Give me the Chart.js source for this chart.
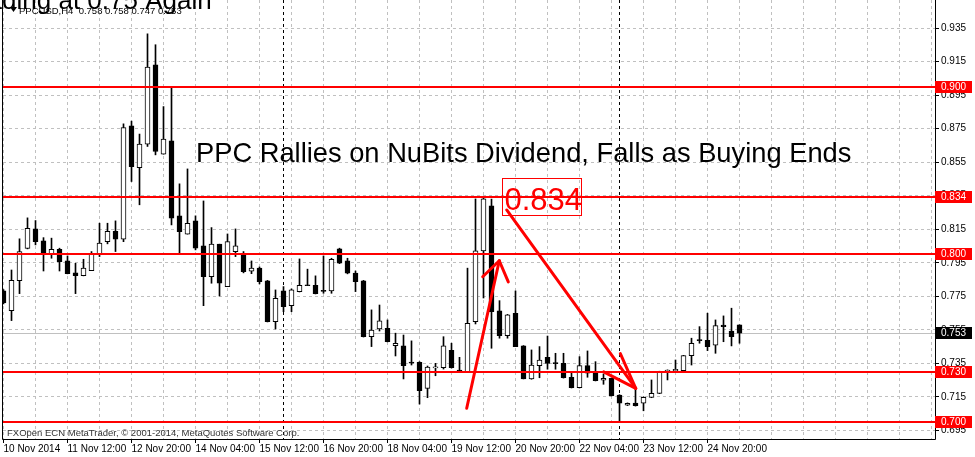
<!DOCTYPE html>
<html><head><meta charset="utf-8">
<script src="https://cdn.jsdelivr.net/npm/chart.js@4.4.1/dist/chart.umd.min.js"></script>
<style>html,body{margin:0;padding:0;background:#fff;overflow:hidden}#wrap{width:975px;height:457px}</style>
</head><body><div id="wrap"><canvas id="c" width="975" height="457"></canvas></div>
<script>
// ---- data (PPCUSD, H4) ----
const xLabels = ["10 Nov 2014","11 Nov 12:00","12 Nov 20:00","14 Nov 04:00","15 Nov 12:00","16 Nov 20:00","18 Nov 04:00","19 Nov 12:00","20 Nov 20:00","22 Nov 04:00","23 Nov 12:00","24 Nov 20:00"];
const yTicks = [0.695,0.715,0.735,0.755,0.775,0.795,0.815,0.835,0.855,0.875,0.895,0.915,0.935];
const opens  = [0.7782,0.7665,0.7844,0.8036,0.8152,0.8081,0.8003,0.8031,0.7961,0.7890,0.7873,0.7903,0.8003,0.8076,0.8138,0.8091,0.8767,0.8518,0.8658,0.9131,0.8598,0.8678,0.8230,0.8121,0.8200,0.8051,0.7867,0.8061,0.7808,0.8017,0.8001,0.7900,0.7918,0.7842,0.7599,0.7782,0.7694,0.7778,0.7819,0.7816,0.7783,0.7782,0.8033,0.7961,0.7888,0.7842,0.7509,0.7555,0.7559,0.7456,0.7454,0.7355,0.7356,0.7201,0.7323,0.7324,0.7428,0.7308,0.7300,0.7599,0.8021,0.8290,0.7663,0.7515,0.7649,0.7454,0.7257,0.7336,0.7386,0.7352,0.7350,0.7267,0.7205,0.7336,0.7291,0.7249,0.7261,0.7161,0.7100,0.7113,0.7112,0.7147,0.7171,0.7300,0.7304,0.7306,0.7396,0.7489,0.7488,0.7458,0.7579,0.7543,0.7580];
const highs  = [0.7790,0.7907,0.8093,0.8218,0.8202,0.8100,0.8097,0.8037,0.7991,0.7947,0.7971,0.8017,0.8186,0.8186,0.8200,0.8779,0.8795,0.8718,0.9316,0.9251,0.8882,0.8996,0.8421,0.8510,0.8230,0.8319,0.8160,0.8061,0.8122,0.8152,0.8017,0.7961,0.7925,0.7845,0.7788,0.7808,0.7794,0.7973,0.7912,0.7872,0.7991,0.7977,0.8037,0.7977,0.7901,0.7845,0.7669,0.7698,0.7609,0.7530,0.7519,0.7484,0.7360,0.7334,0.7350,0.7509,0.7470,0.7386,0.7918,0.8331,0.8340,0.8330,0.7724,0.7642,0.7782,0.7456,0.7430,0.7450,0.7513,0.7410,0.7410,0.7300,0.7390,0.7424,0.7360,0.7287,0.7263,0.7163,0.7114,0.7201,0.7150,0.7251,0.7303,0.7311,0.7370,0.7398,0.7500,0.7569,0.7649,0.7609,0.7633,0.7679,0.7580];
const lows   = [0.7705,0.7605,0.7766,0.8033,0.8057,0.7901,0.7977,0.7901,0.7884,0.7766,0.7872,0.7903,0.7987,0.8063,0.8017,0.8076,0.8435,0.8296,0.8644,0.8594,0.8598,0.8176,0.8007,0.8121,0.8027,0.7694,0.7828,0.7752,0.7808,0.7987,0.7890,0.7885,0.7824,0.7597,0.7555,0.7658,0.7658,0.7776,0.7814,0.7764,0.7768,0.7768,0.7945,0.7884,0.7778,0.7507,0.7450,0.7543,0.7478,0.7394,0.7257,0.7340,0.7107,0.7145,0.7276,0.7316,0.7322,0.7300,0.7298,0.7585,0.7740,0.7440,0.7500,0.7500,0.7450,0.7257,0.7255,0.7264,0.7315,0.7315,0.7262,0.7203,0.7203,0.7267,0.7245,0.7225,0.7155,0.7003,0.7098,0.7095,0.7067,0.7145,0.7169,0.7251,0.7302,0.7304,0.7340,0.7470,0.7426,0.7410,0.7479,0.7454,0.7470];
const closes = [0.7710,0.7846,0.8017,0.8156,0.8076,0.8007,0.8031,0.7957,0.7885,0.7873,0.7918,0.8001,0.8067,0.8138,0.8091,0.8757,0.8524,0.8658,0.9118,0.8614,0.8688,0.8216,0.8136,0.8186,0.8037,0.7867,0.8061,0.7828,0.8076,0.8051,0.7897,0.7918,0.7838,0.7599,0.7738,0.7688,0.7788,0.7816,0.7813,0.7766,0.7779,0.7971,0.7947,0.7888,0.7838,0.7509,0.7549,0.7603,0.7479,0.7470,0.7336,0.7351,0.7187,0.7327,0.7327,0.7454,0.7324,0.7304,0.7589,0.8021,0.8331,0.7658,0.7515,0.7639,0.7450,0.7257,0.7340,0.7370,0.7350,0.7348,0.7264,0.7205,0.7336,0.7291,0.7247,0.7261,0.7157,0.7112,0.7112,0.7097,0.7147,0.7171,0.7300,0.7310,0.7315,0.7396,0.7470,0.7486,0.7450,0.7575,0.7569,0.7509,0.7530];
const levels = [0.900,0.834,0.800,0.730,0.700];
const lastPrice = 0.753;
const separators = [35,77];
const symbolName = "PPCUSD,H4";
const chartTitle = "PPC Rallies on NuBits Dividend, Falls as Buying Ends";
const oldTitle = "Trading at 0.75 Again";
const calloutText = "0.834";
const footer = "FXOpen ECN MetaTrader, \u00A9 2001-2014, MetaQuotes Software Corp.";
// annotation anchors in (bar index, price)
const titleAnchor = [24.06, 0.8551];
const calloutAnchor = [62.35, 0.8456];
const arrows = [
  {from:[57.9, 0.7082], to:[61.97, 0.7962], wings:[[33.6,23],[-35.6,23]]},
  {from:[62.9, 0.8265], to:[79.03, 0.7201], wings:[[12,38],[-27,36]]}
];

// ---- chart ----
const idx = opens.map((_, i) => i);
const up = idx.map(i => closes[i] >= opens[i]);
const FONT = '"Liberation Sans", Arial, sans-serif';

const overlay = {
  id: 'overlay',
  beforeDatasetsDraw(chart) {
    const {ctx, chartArea: a, scales: {x, y}} = chart;
    ctx.save();
    ctx.beginPath(); ctx.rect(a.left, a.top, a.right - a.left, a.bottom - a.top); ctx.clip();
    ctx.strokeStyle = '#c0c0c0'; ctx.lineWidth = 1;
    let py = Math.round(y.getPixelForValue(lastPrice)) + 0.5;
    ctx.beginPath(); ctx.moveTo(a.left, py); ctx.lineTo(a.right, py); ctx.stroke();
    ctx.strokeStyle = '#000'; ctx.setLineDash([3, 3]);
    separators.forEach(b => {
      const px = Math.floor(x.getPixelForValue(b)) + 0.5;
      ctx.beginPath(); ctx.moveTo(px, a.top); ctx.lineTo(px, a.bottom); ctx.stroke();
    });
    ctx.restore();
  },
  afterDatasetsDraw(chart) {
    const {ctx, chartArea: a, scales: {x, y}} = chart;
    ctx.save();
    ctx.beginPath(); ctx.rect(a.left, a.top, a.right - a.left, a.bottom - a.top); ctx.clip();
    ctx.strokeStyle = '#ff0000'; ctx.lineWidth = 2;
    levels.forEach(l => {
      const py = Math.round(y.getPixelForValue(l));
      ctx.beginPath(); ctx.moveTo(a.left, py); ctx.lineTo(a.right, py); ctx.stroke();
    });
    ctx.lineWidth = 3; ctx.lineCap = 'round';
    arrows.forEach(ar => {
      const sx = x.getPixelForValue(ar.from[0]), sy = y.getPixelForValue(ar.from[1]);
      const tx = x.getPixelForValue(ar.to[0]), ty = y.getPixelForValue(ar.to[1]);
      ctx.beginPath(); ctx.moveTo(sx, sy); ctx.lineTo(tx, ty); ctx.stroke();
      const th = Math.atan2(sy - ty, sx - tx);
      ar.wings.forEach(([deg, len]) => {
        const t = th + deg * Math.PI / 180;
        ctx.beginPath(); ctx.moveTo(tx, ty); ctx.lineTo(tx + len * Math.cos(t), ty + len * Math.sin(t)); ctx.stroke();
      });
    });
    ctx.fillStyle = '#000'; ctx.font = '27.3px ' + FONT; ctx.textBaseline = 'alphabetic'; ctx.textAlign = 'left';
    ctx.fillText(chartTitle, x.getPixelForValue(titleAnchor[0]), y.getPixelForValue(titleAnchor[1]));
    const bx = Math.round(x.getPixelForValue(calloutAnchor[0])) + 0.5;
    const by = Math.round(y.getPixelForValue(calloutAnchor[1])) + 0.5;
    ctx.strokeStyle = '#ff0000'; ctx.lineWidth = 1;
    ctx.strokeRect(bx, by, 79, 37);
    ctx.fillStyle = '#ff0000'; ctx.font = '31px ' + FONT;
    ctx.fillText(calloutText, bx + 2, by + 31.5);
    ctx.restore();
  },
  afterDraw(chart) {
    const {ctx, chartArea: a, scales: {x, y}} = chart;
    ctx.save();
    ctx.strokeStyle = '#000'; ctx.lineWidth = 1;
    ctx.beginPath();
    ctx.moveTo(a.left - 0.5, 0); ctx.lineTo(a.left - 0.5, a.bottom + 0.5);
    ctx.lineTo(a.right + 0.5, a.bottom + 0.5); ctx.lineTo(a.right + 0.5, 0);
    ctx.stroke();
    ctx.font = '10px ' + FONT; ctx.textBaseline = 'middle'; ctx.textAlign = 'left';
    const tag = (v, bg) => {
      const py = Math.round(y.getPixelForValue(v));
      ctx.fillStyle = bg; ctx.fillRect(a.right, py - 6, 37, 12);
      ctx.fillStyle = '#fff'; ctx.fillText(v.toFixed(3), a.right + 6, py + 0.5);
    };
    tag(lastPrice, '#000');
    levels.forEach(l => tag(l, '#ff0000'));
    ctx.fillStyle = '#000'; ctx.font = '26px ' + FONT; ctx.textBaseline = 'alphabetic';
    ctx.fillText(oldTitle, -36, 9);
    ctx.beginPath(); ctx.moveTo(10, 7); ctx.lineTo(17, 7); ctx.lineTo(13.5, 12); ctx.closePath(); ctx.fill();
    ctx.font = '9.5px ' + FONT; ctx.textBaseline = 'middle';
    const n = opens.length - 1;
    ctx.fillText(symbolName + '  ' + [opens[n], highs[n], lows[n], closes[n]].map(v => v.toFixed(3)).join(' '), 19, 11);
    ctx.fillStyle = '#333'; ctx.font = '9.5px ' + FONT; ctx.textBaseline = 'alphabetic';
    ctx.fillText(footer, 7, 436);
    ctx.restore();
  }
};

new Chart(document.getElementById('c'), {
  type: 'bar',
  data: {
    datasets: [
      {label: 'body', data: idx.map(i => ({x: i, y: [opens[i], closes[i]]})),
       backgroundColor: up.map(u => u ? '#ffffff' : '#000000'), borderColor: '#000', borderWidth: 1,
       borderSkipped: false, barThickness: 5, grouped: false, order: 1, minBarLength: 1},
      {label: 'wick', data: idx.map(i => ({x: i, y: [lows[i], highs[i]]})),
       backgroundColor: '#000', borderWidth: 0, barThickness: 1, grouped: false, order: 2}
    ]
  },
  options: {
    responsive: false, animation: false, events: [],
    layout: {padding: {left: 3, top: 0, right: 0, bottom: 0}},
    plugins: {legend: {display: false}, tooltip: {enabled: false}, title: {display: false}},
    scales: {
      x: {
        type: 'linear', min: -0.0625, max: 116.4375, offset: false, bounds: 'data',
        afterBuildTicks: s => { const t = []; for (let v = 0; v <= 116; v += 4) t.push({value: v}); s.ticks = t; },
        afterFit: s => { s.height = 18; s.paddingLeft = 0; s.paddingRight = 0; },
        ticks: {autoSkip: false, maxRotation: 0, minRotation: 0, align: 'start', padding: 0, color: '#000',
          font: {family: FONT, size: 10},
          callback: v => (v % 8 === 0 && xLabels[v / 8]) ? xLabels[v / 8] : ''},
        grid: {color: '#c0c0c0', offset: false, tickLength: 4,
          tickColor: c => (c.tick && c.tick.value % 8 === 0 && xLabels[c.tick.value / 8]) ? '#000' : 'rgba(0,0,0,0)'},
        border: {display: false, dash: [3, 3]}
      },
      y: {
        position: 'right', min: 0.68986, max: 0.95179, beginAtZero: false, bounds: 'data',
        afterBuildTicks: s => { s.ticks = yTicks.map(v => ({value: v})); },
        afterFit: s => { s.width = 40; s.paddingTop = 0; s.paddingBottom = 0; },
        ticks: {padding: 2, color: '#000', font: {family: FONT, size: 10}, callback: v => Number(v).toFixed(3)},
        grid: {color: '#c0c0c0', tickLength: 4, tickColor: '#000'},
        border: {display: false, dash: [3, 3]}
      }
    }
  },
  plugins: [overlay]
});
</script>
</body></html>
